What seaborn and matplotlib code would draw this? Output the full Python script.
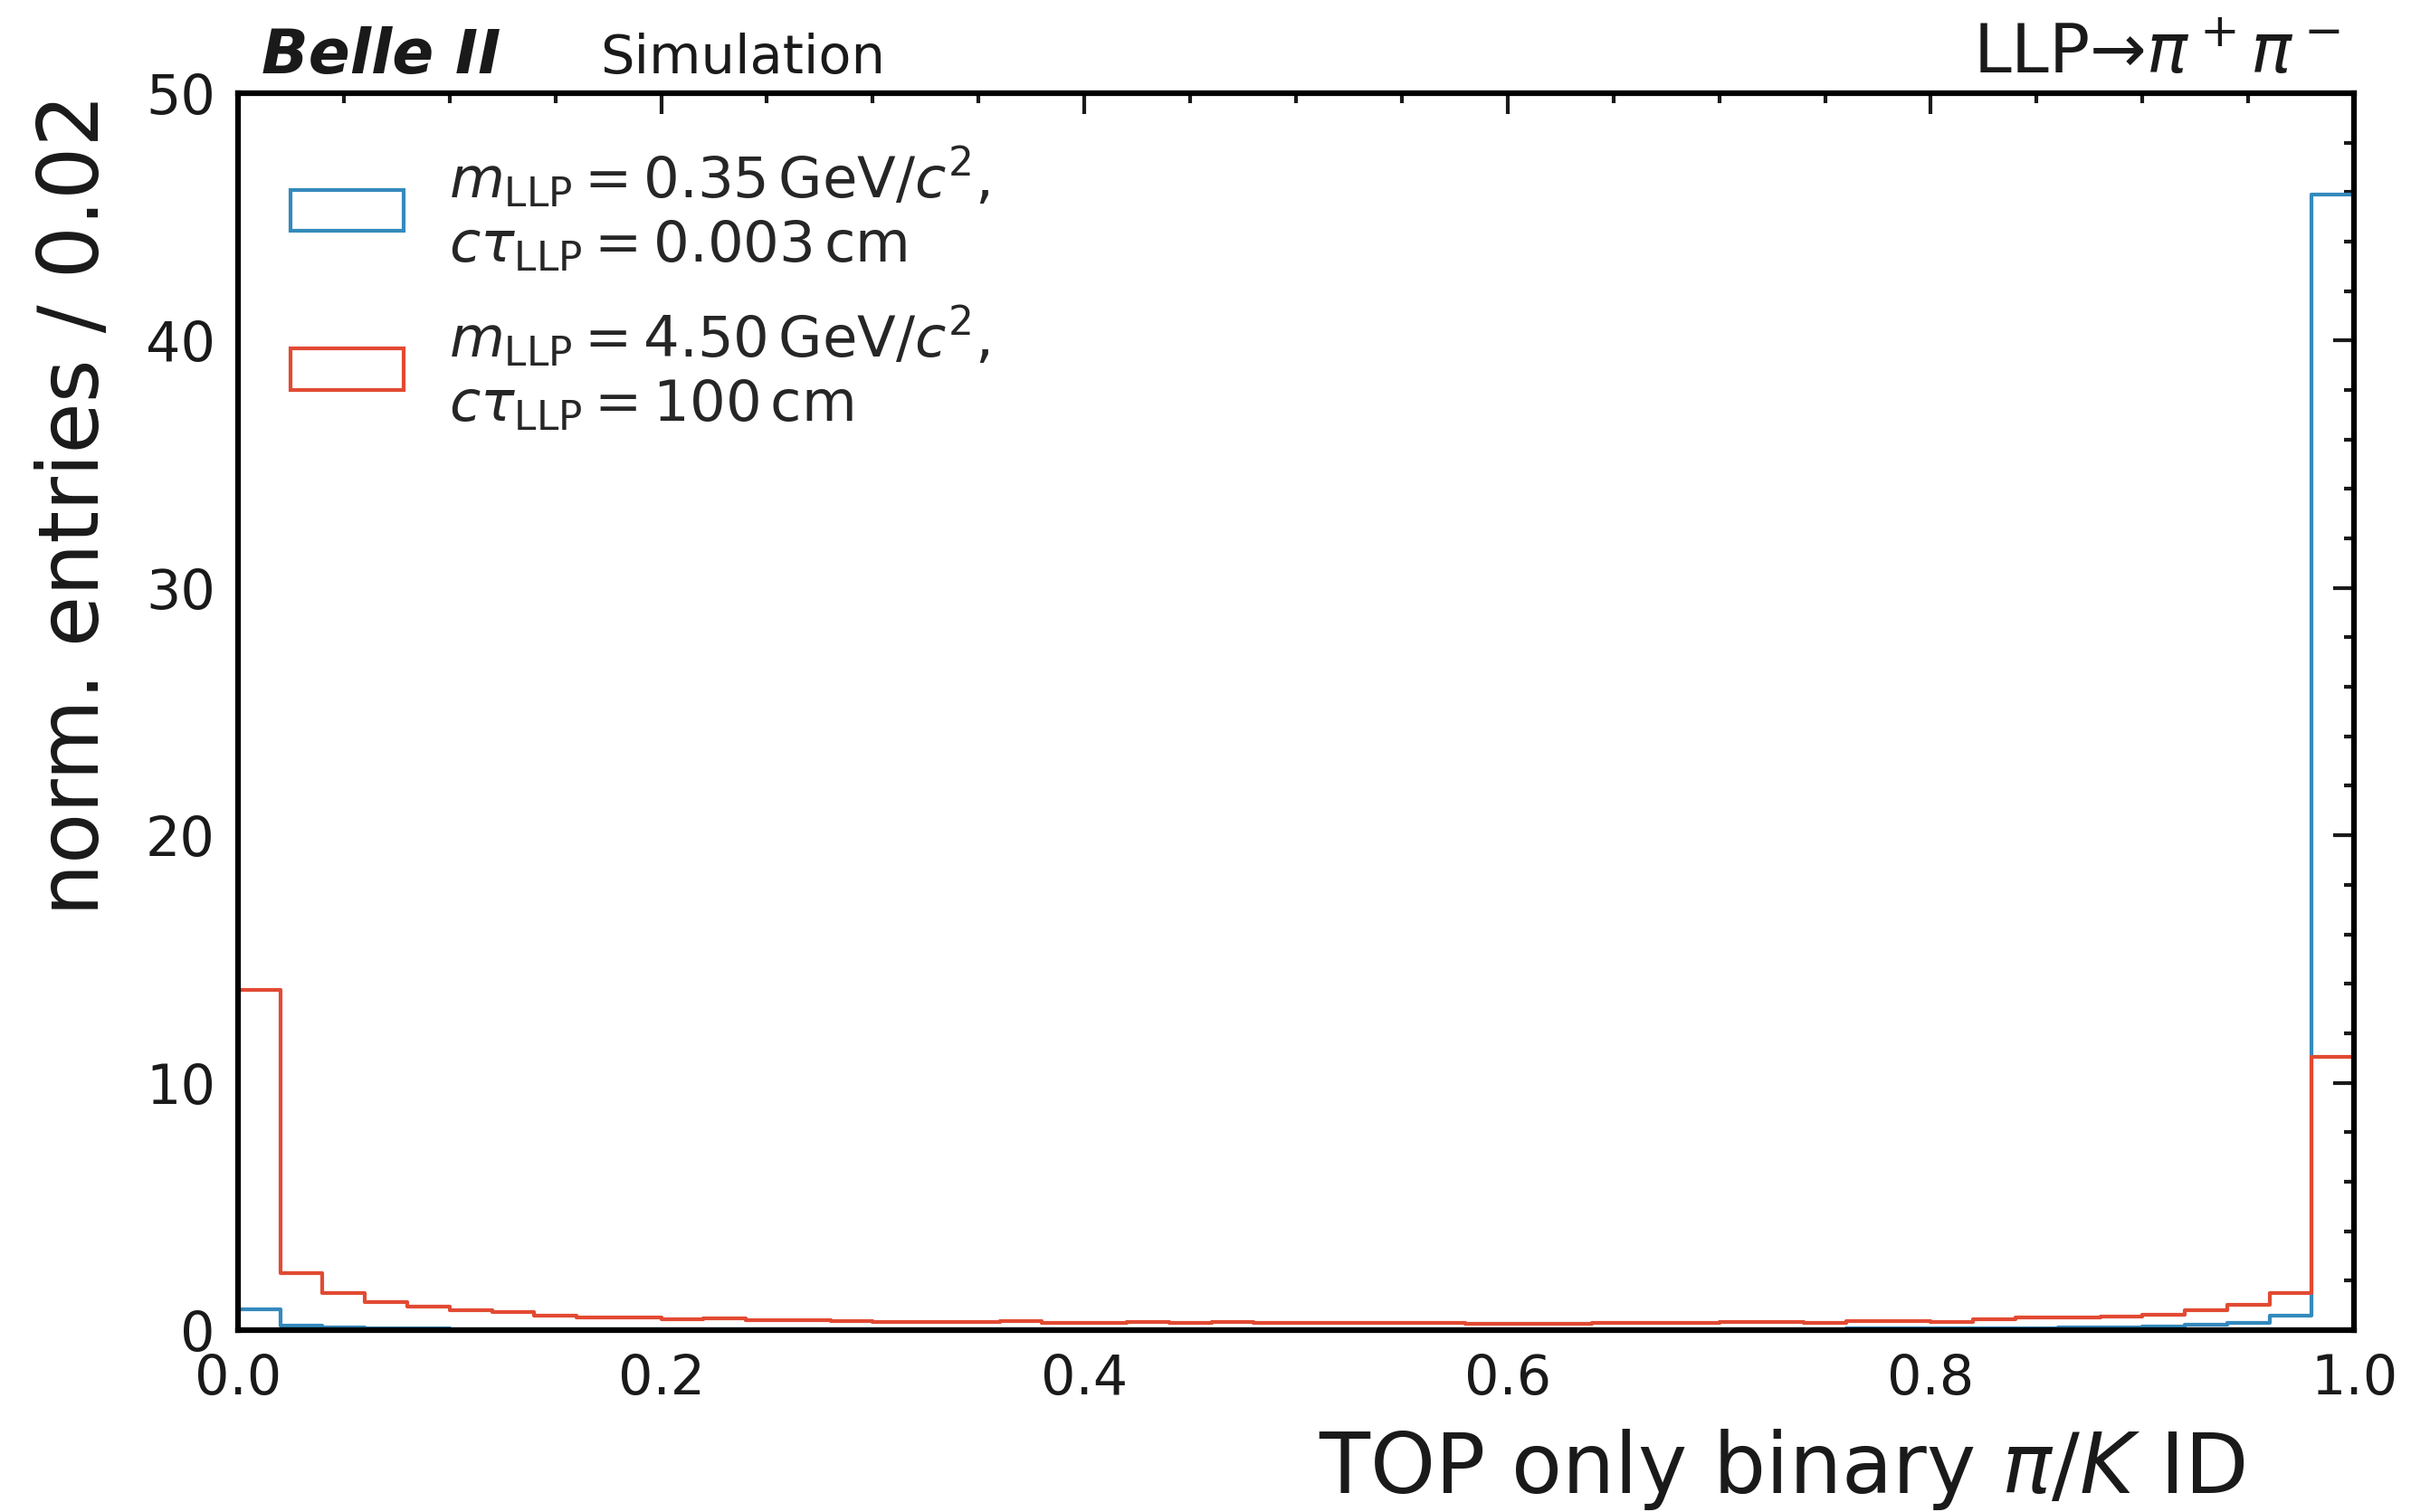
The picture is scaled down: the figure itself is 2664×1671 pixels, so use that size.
import numpy as np
import pandas as pd
import matplotlib
matplotlib.use("Agg")
import matplotlib.pyplot as plt
from matplotlib.patches import Patch
from matplotlib.ticker import MultipleLocator
import seaborn as sns

# Bin centres of the TOP-only binary pi/K ID (50 bins of width 0.02)
bin_centers = np.arange(0.01, 1.0, 0.02)

# Normalised entries per bin, m=0.35 GeV/c^2, ctau=0.003 cm
light_llp = [
    0.83, 0.18, 0.10, 0.08, 0.06, 0.05, 0.05, 0.04, 0.04, 0.04,
    0.04, 0.03, 0.05, 0.03, 0.03, 0.03, 0.03, 0.03, 0.03, 0.03,
    0.03, 0.03, 0.03, 0.03, 0.03, 0.03, 0.03, 0.03, 0.03, 0.03,
    0.03, 0.03, 0.04, 0.05, 0.04, 0.04, 0.05, 0.05, 0.06, 0.06,
    0.07, 0.08, 0.09, 0.10, 0.12, 0.15, 0.21, 0.28, 0.59, 45.9,
]

# Normalised entries per bin, m=4.50 GeV/c^2, ctau=100 cm
heavy_llp = [
    13.74, 2.30, 1.49, 1.13, 0.96, 0.79, 0.74, 0.60, 0.52, 0.50,
    0.44, 0.46, 0.40, 0.39, 0.37, 0.34, 0.34, 0.32, 0.35, 0.29,
    0.29, 0.32, 0.29, 0.32, 0.28, 0.28, 0.28, 0.28, 0.28, 0.26,
    0.27, 0.27, 0.29, 0.28, 0.28, 0.34, 0.32, 0.29, 0.35, 0.38,
    0.34, 0.42, 0.50, 0.51, 0.56, 0.61, 0.79, 1.01, 1.49, 11.04,
]

labels = [
    r"$m_{\mathrm{LLP}} = 0.35\,\mathrm{GeV}/c^{2}$," + "\n"
    + r"$c\tau_{\mathrm{LLP}} = 0.003\,\mathrm{cm}$",
    r"$m_{\mathrm{LLP}} = 4.50\,\mathrm{GeV}/c^{2}$," + "\n"
    + r"$c\tau_{\mathrm{LLP}} = 100\,\mathrm{cm}$",
]
colors = ["#348ABD", "#E24A33"]

sns.set_theme(style="white")
plt.rcParams["font.family"] = ["DejaVu Sans"]
plt.rcParams["mathtext.fontset"] = "dejavusans"

fig = plt.figure(figsize=(8.88, 5.57), dpi=300)
ax = fig.add_axes([0.0987, 0.1203, 0.8777, 0.8181])

for vals, col in zip([light_llp, heavy_llp], colors):
    df = pd.DataFrame({"score": bin_centers, "entries": vals})
    sns.histplot(data=df, x="score", weights="entries", binwidth=0.02,
                 binrange=(0.0, 1.0), element="step", fill=False,
                 color=col, linewidth=1.0, ax=ax)

ax.set_xlim(0, 1)
ax.set_ylim(0, 50)
ax.xaxis.set_major_locator(MultipleLocator(0.2))
ax.xaxis.set_minor_locator(MultipleLocator(0.05))
ax.yaxis.set_major_locator(MultipleLocator(10))
ax.yaxis.set_minor_locator(MultipleLocator(2))
ax.tick_params(which="both", direction="in", top=True, right=True,
               colors="#1a1a1a", width=1.0)
ax.tick_params(which="major", length=5.6, labelsize=14.5, pad=6)
ax.tick_params(which="minor", length=2.6)
for side in ax.spines.values():
    side.set_linewidth(1.5)
    side.set_color("black")

ax.set_xlabel(r"TOP only binary $\pi/K$ ID", fontsize=22, color="#1a1a1a")
ax.xaxis.set_label_coords(0.9487, -0.078)
ax.xaxis.label.set_horizontalalignment("right")
ax.set_ylabel("norm. entries / 0.02", fontsize=22, color="#1a1a1a",
              loc="top", labelpad=8)

handles = [Patch(facecolor="none", edgecolor=c, linewidth=1.0) for c in colors]
ax.legend(handles, labels, loc="upper left", bbox_to_anchor=(-0.002, 1.004),
          frameon=False, fontsize=15, handlelength=2.0, handleheight=0.75,
          handletextpad=0.8, labelspacing=0.55, borderaxespad=0.6)

ax.text(0.011, 1.016, "Belle II", transform=ax.transAxes, fontsize=16.3,
        fontweight="bold", fontstyle="italic", color="#1a1a1a", va="baseline")
ax.text(0.171, 1.016, "Simulation", transform=ax.transAxes, fontsize=14.2,
        color="#1a1a1a", va="baseline")
ax.text(0.9935, 1.016, "LLP→" + r"$\pi^+\pi^-$", transform=ax.transAxes,
        fontsize=18, color="#1a1a1a", ha="right", va="baseline")

fig.savefig("out.png", dpi=300)
